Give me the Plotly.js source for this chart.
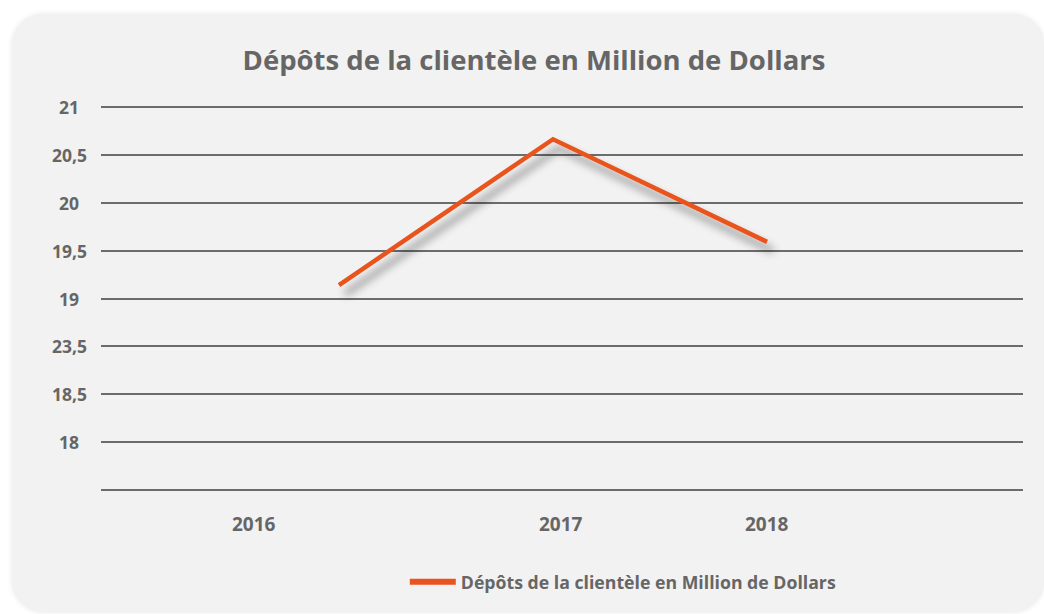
<!DOCTYPE html>
<html>
<head>
<meta charset="utf-8">
<script src="https://cdn.plot.ly/plotly-3.0.1.min.js"></script>
<style>
  html, body { margin: 0; padding: 0; background: #ffffff; }
  #wrap { position: relative; width: 1044px; height: 614px; overflow: hidden; background: #ffffff; }
  #card { position: absolute; left: 13px; top: 15px; width: 1030px; height: 596px;
          background: #f2f2f2; border-radius: 30px; box-shadow: 0 0 6px rgba(0,0,0,0.13); }
  #chart { position: absolute; left: 0; top: 0; width: 1044px; height: 614px; }
</style>
</head>
<body>
<div id="wrap">
  <div id="card"></div>
  <div id="chart"></div>
</div>
<script>
// ---- data ----
const chartTitle = "Dépôts de la clientèle en Million de Dollars";
const seriesName = "Dépôts de la clientèle en Million de Dollars";
const years = [2016, 2017, 2018];
const deposits = [19.14, 20.66, 19.59];
const yTickValues = [21, 20.5, 20, 19.5, 19, 18.5, 18, 17.5, 17];
const yTickLabels = ["21", "20,5", "20", "19,5", "19", "23,5", "18,5", "18", ""];
const xTickLabels = ["2016", "2017", "2018"];

// ---- styling / layout ----
const textColor = "#666666";
const lineColor = "#E9531F";
const gridColor = "#6c6c6c";
const fontFamily = "'Open Sans', 'Noto Sans', sans-serif";
// label placement offsets (in years) relative to each category, as drawn in the reference
const xLabelShift = [-0.397, 0.037, 0.0];

const annotations = [];
yTickValues.forEach((v, i) => {
  annotations.push({
    xref: 'paper', yref: 'y', x: 0, y: v, xshift: -32,
    xanchor: 'center', yanchor: 'middle', showarrow: false,
    text: yTickLabels[i],
    font: { family: fontFamily, size: 17.5, color: textColor, weight: 700 }
  });
});
years.forEach((yr, i) => {
  annotations.push({
    xref: 'x', yref: 'y', x: yr + xLabelShift[i], y: 17, yshift: -34,
    xanchor: 'center', yanchor: 'middle', showarrow: false,
    text: xTickLabels[i],
    font: { family: fontFamily, size: 19, color: textColor, weight: 700 }
  });
});

const trace = {
  x: years, y: deposits, type: 'scatter', mode: 'lines', name: seriesName,
  line: { color: lineColor, width: 4.5 }
};

const layout = {
  width: 1044, height: 614,
  margin: { l: 101, r: 21, t: 97, b: 114 },
  paper_bgcolor: 'rgba(0,0,0,0)',
  plot_bgcolor: 'rgba(0,0,0,0)',
  title: {
    text: chartTitle, xref: 'container', yref: 'container',
    x: 0.5115, y: 0.902, xanchor: 'center', yanchor: 'middle',
    font: { family: fontFamily, size: 27.5, color: textColor, weight: 700 }
  },
  xaxis: {
    range: [2014.888, 2019.196], showgrid: false, zeroline: false,
    showticklabels: false, ticks: '', showline: false, fixedrange: true
  },
  yaxis: {
    range: [16.9, 21.1], tickvals: yTickValues, showticklabels: false,
    showgrid: true, gridcolor: gridColor, gridwidth: 2, zeroline: false,
    showline: false, ticks: '', fixedrange: true
  },
  showlegend: true,
  legend: {
    orientation: 'h', xref: 'paper', yref: 'paper',
    x: 0.3295, y: -0.204, xanchor: 'left', yanchor: 'middle',
    itemwidth: 46,
    font: { family: fontFamily, size: 17.7, color: textColor, weight: 700 },
    bgcolor: 'rgba(0,0,0,0)'
  },
  annotations: annotations
};

Plotly.newPlot('chart', [trace], layout, { displayModeBar: false, staticPlot: true }).then(gd => {
  const svg = gd.querySelector('svg.main-svg');
  const ns = 'http://www.w3.org/2000/svg';
  let defs = svg.querySelector('defs');
  if (!defs) { defs = document.createElementNS(ns, 'defs'); svg.insertBefore(defs, svg.firstChild); }
  const f = document.createElementNS(ns, 'filter');
  f.setAttribute('id', 'lineShadow');
  f.setAttribute('x', '-20%'); f.setAttribute('y', '-20%');
  f.setAttribute('width', '140%'); f.setAttribute('height', '160%');
  const ds = document.createElementNS(ns, 'feDropShadow');
  ds.setAttribute('dx', '6'); ds.setAttribute('dy', '9');
  ds.setAttribute('stdDeviation', '4');
  ds.setAttribute('flood-color', '#000000');
  ds.setAttribute('flood-opacity', '0.45');
  f.appendChild(ds);
  defs.appendChild(f);
  gd.querySelectorAll('.scatterlayer .trace path.js-line').forEach(p => {
    p.setAttribute('filter', 'url(#lineShadow)');
  });
  // legend symbol thickness as drawn in the reference
  gd.querySelectorAll('.legend .legendlines path').forEach(p => {
    p.style.strokeWidth = '6px';
  });
});
</script>
</body>
</html>
